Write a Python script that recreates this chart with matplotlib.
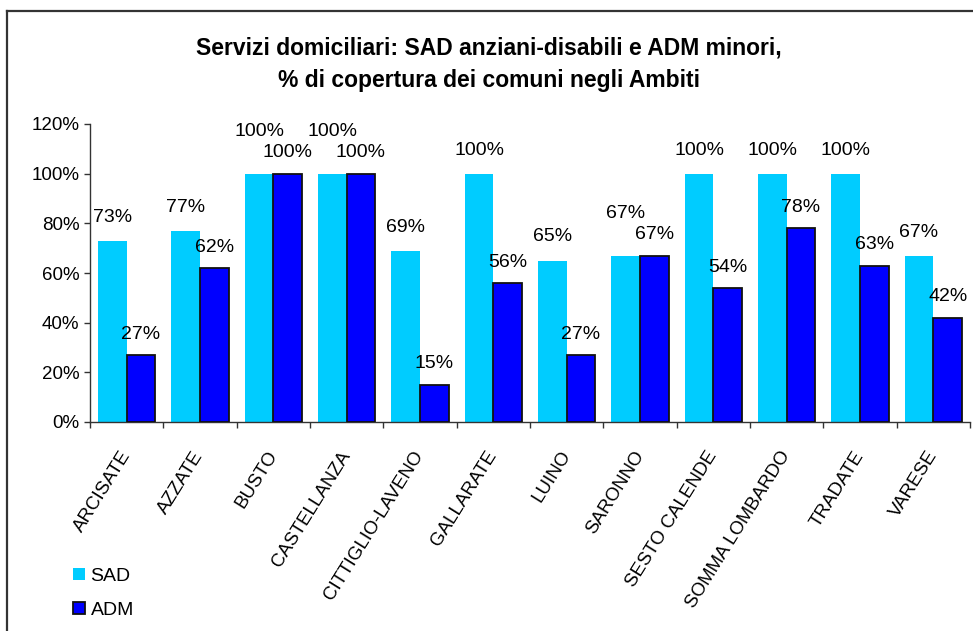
import matplotlib
matplotlib.use("Agg")
import matplotlib.pyplot as plt
from matplotlib.lines import Line2D
import numpy as np

plt.rcParams['font.family'] = ['Liberation Sans', 'DejaVu Sans']

categories = ["ARCISATE", "AZZATE", "BUSTO", "CASTELLANZA", "CITTIGLIO-LAVENO",
              "GALLARATE", "LUINO", "SARONNO", "SESTO CALENDE", "SOMMA LOMBARDO",
              "TRADATE", "VARESE"]
sad = [0.73, 0.77, 1.00, 1.00, 0.69, 1.00, 0.65, 0.67, 1.00, 1.00, 1.00, 0.67]
adm = [0.27, 0.62, 1.00, 1.00, 0.15, 0.56, 0.27, 0.67, 0.54, 0.78, 0.63, 0.42]
yticks = [0, 0.2, 0.4, 0.6, 0.8, 1.0, 1.2]
title = "Servizi domiciliari: SAD anziani-disabili e ADM minori,\n% di copertura dei comuni negli Ambiti"

W, H = 973, 631
fig = plt.figure(figsize=(W / 100, H / 100), dpi=100)
ax = fig.add_axes([90 / W, 1 - 422 / H, 880 / W, 298 / H])

n = len(categories)
x = np.arange(n) + 0.5
bw = 0.39
ax.bar(x - bw / 2, sad, bw, color="#00CCFF", edgecolor="none", label="SAD", zorder=2)
ax.bar(x + bw / 2, adm, bw, color="#0000FF", edgecolor="#111111", linewidth=1.3,
       label="ADM", zorder=3)

for i in range(n):
    raise_sad = abs(sad[i] - adm[i]) < 0.08
    ax.annotate(f"{round(sad[i]*100)}%", (x[i] - bw / 2, sad[i]),
                xytext=(0, 30 if raise_sad else 17), textcoords="offset points",
                ha="center", va="center", fontsize=14, color="black")
    ax.annotate(f"{round(adm[i]*100)}%", (x[i] + bw / 2, adm[i]),
                xytext=(0, 15), textcoords="offset points",
                ha="center", va="center", fontsize=14, color="black")

ax.set_xlim(0, n)
ax.set_ylim(0, 1.2)
ax.set_yticks(yticks)
ax.set_yticklabels([f"{round(v*100)}%" for v in yticks], fontsize=13.5)
ax.tick_params(axis="y", direction="out", length=4.5, width=1, color="#333333", pad=3)

ax.set_xticks(x)
ax.set_xticklabels(categories, rotation=58, ha="right", va="center",
                   rotation_mode="anchor", fontsize=13.5)
ax.tick_params(axis="x", which="major", length=0, pad=22)
ax.set_xticks(np.arange(n + 1), minor=True)
ax.tick_params(axis="x", which="minor", direction="out", length=4.5, width=1, color="#333333")

for s in ["top", "right"]:
    ax.spines[s].set_visible(False)
for s in ["left", "bottom"]:
    ax.spines[s].set_color("#333333")
    ax.spines[s].set_linewidth(1)

fig.text(489 / W, 1 - 64 / H, title, ha="center", va="center", fontsize=16.5,
         fontweight="bold", linespacing=1.5)

leg = fig.legend(loc="upper left", bbox_to_anchor=(73 / W, 1 - 568 / H), frameon=False,
                 fontsize=14, handlelength=0.6, handleheight=0.6, handletextpad=0.3,
                 labelspacing=0.85, borderpad=0, borderaxespad=0)

# outer frame (top and left edges visible)
fig.add_artist(Line2D([6.5 / W, 1.0], [1 - 10.5 / H, 1 - 10.5 / H], transform=fig.transFigure,
                      color="#333333", linewidth=1.6))
fig.add_artist(Line2D([6.5 / W, 6.5 / W], [0, 1 - 10.5 / H], transform=fig.transFigure,
                      color="#333333", linewidth=1.6))

fig.savefig("out.png", dpi=100)
